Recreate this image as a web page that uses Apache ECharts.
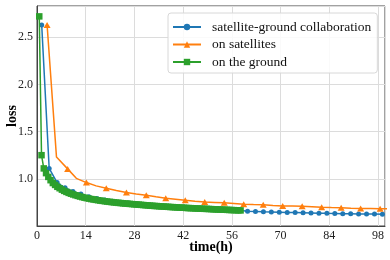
<!DOCTYPE html>
<html>
<head>
<meta charset="utf-8">
<script src="https://cdn.jsdelivr.net/npm/echarts@6/dist/echarts.min.js"></script>
<style>html,body{margin:0;padding:0;background:#fff}#c{width:390px;height:260px}</style>
</head>
<body>
<div id="c"></div>
<script>
// ---- data ----
const seriesNames = ['satellite-ground collaboration', 'on satellites', 'on the ground'];
const xTicks = [0, 14, 28, 42, 56, 70, 84, 98];
const yTicks = [1.0, 1.5, 2.0, 2.5];

const collabTime = [1.35, 3.5, 5.78, 8.06, 10.34, 12.62, 14.9, 17.18, 19.46, 21.74, 24.02, 26.3, 28.58, 30.86, 33.14, 35.42, 37.7, 39.98, 42.26, 44.54, 46.82, 49.1, 51.38, 53.66, 55.94, 58.22, 60.5, 62.78, 65.06, 67.34, 69.62, 71.9, 74.18, 76.46, 78.74, 81.02, 83.3, 85.58, 87.86, 90.14, 92.42, 94.7, 96.98, 99.26];
const collabLoss = [2.63, 1.11, 0.96, 0.905, 0.865, 0.84, 0.81, 0.79, 0.775, 0.762, 0.752, 0.744, 0.736, 0.728, 0.721, 0.715, 0.709, 0.703, 0.698, 0.694, 0.689, 0.685, 0.68, 0.676, 0.672, 0.667, 0.656, 0.653, 0.65, 0.648, 0.646, 0.644, 0.642, 0.64, 0.638, 0.636, 0.634, 0.633, 0.631, 0.63, 0.628, 0.627, 0.626, 0.624];

const satTime = [2.9, 5.6, 8.8, 11.3, 14.2, 17.0, 19.9, 22.8, 25.7, 28.5, 31.4, 34.2, 37.0, 39.8, 42.6, 45.4, 48.2, 51.0, 53.8, 56.6, 59.4, 62.2, 65.0, 67.8, 70.6, 73.4, 76.2, 79.0, 81.8, 84.6, 87.4, 90.2, 93.0, 95.8, 98.6, 101.4];
const satLoss = [2.63, 1.23, 1.105, 1.005, 0.96, 0.925, 0.9, 0.875, 0.855, 0.84, 0.826, 0.81, 0.795, 0.784, 0.773, 0.763, 0.755, 0.75, 0.745, 0.738, 0.731, 0.727, 0.724, 0.718, 0.713, 0.711, 0.709, 0.704, 0.699, 0.695, 0.692, 0.688, 0.685, 0.685, 0.684, 0.682];

const groundTime = [0.65, 1.3, 1.95, 2.6, 3.25, 3.9, 4.55, 5.2, 5.85, 6.5, 7.15, 7.8, 8.45, 9.1, 9.75, 10.4, 11.05, 11.7, 12.35, 13.0, 13.65, 14.3, 14.95, 15.6, 16.25, 16.9, 17.55, 18.2, 18.85, 19.5, 20.15, 20.8, 21.45, 22.1, 22.75, 23.4, 24.05, 24.7, 25.35, 26.0, 26.65, 27.3, 27.95, 28.6, 29.25, 29.9, 30.55, 31.2, 31.85, 32.5, 33.15, 33.8, 34.45, 35.1, 35.75, 36.4, 37.05, 37.7, 38.35, 39.0, 39.65, 40.3, 40.95, 41.6, 42.25, 42.9, 43.55, 44.2, 44.85, 45.5, 46.15, 46.8, 47.45, 48.1, 48.75, 49.4, 50.05, 50.7, 51.35, 52.0, 52.65, 53.3, 53.95, 54.6, 55.25, 55.9, 56.55, 57.2, 57.85, 58.5];
const groundLoss = [2.72, 1.25, 1.11, 1.06, 1.02, 0.985, 0.955, 0.935, 0.915, 0.9, 0.885, 0.872, 0.861, 0.851, 0.842, 0.834, 0.826, 0.819, 0.812, 0.806, 0.8, 0.795, 0.79, 0.785, 0.781, 0.777, 0.773, 0.769, 0.766, 0.762, 0.759, 0.756, 0.753, 0.75, 0.748, 0.745, 0.743, 0.74, 0.738, 0.736, 0.734, 0.732, 0.73, 0.728, 0.726, 0.724, 0.722, 0.72, 0.718, 0.716, 0.714, 0.712, 0.711, 0.709, 0.707, 0.706, 0.704, 0.703, 0.701, 0.7, 0.698, 0.697, 0.695, 0.694, 0.693, 0.691, 0.69, 0.689, 0.688, 0.686, 0.685, 0.684, 0.683, 0.682, 0.681, 0.68, 0.679, 0.677, 0.676, 0.675, 0.674, 0.673, 0.672, 0.671, 0.67, 0.669, 0.668, 0.667, 0.666, 0.665];

// ---- chart ----
const colors = ['#1f77b4', '#ff7f0e', '#2ca02c'];
const font = '"Liberation Serif", "DejaVu Serif", serif';
const pair = (xs, ys) => xs.map((x, i) => [x, ys[i]]);
const satData = satTime.map((x, i) => i % 2 === 0 ? { value: [x, satLoss[i]] } : { value: [x, satLoss[i]], symbol: 'none' });

const chart = echarts.init(document.getElementById('c'), null, { renderer: 'canvas' });
chart.setOption({
  animation: false,
  backgroundColor: '#fff',
  color: colors,
  grid: { left: 37, right: 5, top: 6, bottom: 34, show: true, borderColor: '#444', borderWidth: 1, containLabel: false, outerBoundsMode: 'none' },
  legend: {
    orient: 'vertical', left: 168, top: 13,
    padding: [7, 6, 4, 4], itemGap: 3.5, itemWidth: 28, itemHeight: 8,
    borderColor: '#d8d8d8', borderWidth: 1, borderRadius: 3, backgroundColor: 'rgba(255,255,255,0.85)',
    textStyle: { fontFamily: font, fontSize: 13.5, color: '#111', lineHeight: 14, padding: [0, 0, 0, 6] },
    data: seriesNames
  },
  xAxis: {
    type: 'value', min: 0, max: 100, interval: 14,
    name: 'time(h)', nameLocation: 'middle', nameGap: 14, nameMoveOverlap: false,
    nameTextStyle: { fontFamily: font, fontSize: 14, fontWeight: 'bold', color: '#000' },
    axisLine: { show: true, lineStyle: { color: '#444' } },
    axisTick: { show: false },
    axisLabel: { fontFamily: font, fontSize: 12, color: '#222', margin: 4,
      formatter: v => xTicks.includes(v) ? String(v) : '' },
    splitLine: { show: true, lineStyle: { color: '#dcdcdc', width: 1 } }
  },
  yAxis: {
    type: 'value', min: 0.5, max: 2.83, interval: 0.5,
    name: 'loss', nameLocation: 'middle', nameGap: 18, nameRotate: 90, nameMoveOverlap: false,
    nameTextStyle: { fontFamily: font, fontSize: 14, fontWeight: 'bold', color: '#000' },
    axisLine: { show: true, lineStyle: { color: '#444' } },
    axisTick: { show: false },
    axisLabel: { fontFamily: font, fontSize: 12, color: '#222', margin: 4,
      formatter: v => yTicks.some(t => Math.abs(t - v) < 1e-6) ? v.toFixed(1) : '' },
    splitLine: { show: true, lineStyle: { color: '#dcdcdc', width: 1 } }
  },
  series: [
    { name: seriesNames[0], type: 'line', data: pair(collabTime, collabLoss), symbol: 'circle', symbolSize: 5, showAllSymbol: true,
      lineStyle: { width: 1.5, color: colors[0] }, itemStyle: { color: colors[0] }, z: 2 },
    { name: seriesNames[1], type: 'line', data: satData, symbol: 'triangle', symbolSize: [7, 6], showAllSymbol: true,
      lineStyle: { width: 1.5, color: colors[1] }, itemStyle: { color: colors[1] }, z: 3 },
    { name: seriesNames[2], type: 'line', data: pair(groundTime, groundLoss), symbol: 'rect', symbolSize: 6.5, showAllSymbol: true,
      lineStyle: { width: 1.5, color: colors[2] }, itemStyle: { color: colors[2] }, z: 4 }
  ]
});
</script>
</body>
</html>
